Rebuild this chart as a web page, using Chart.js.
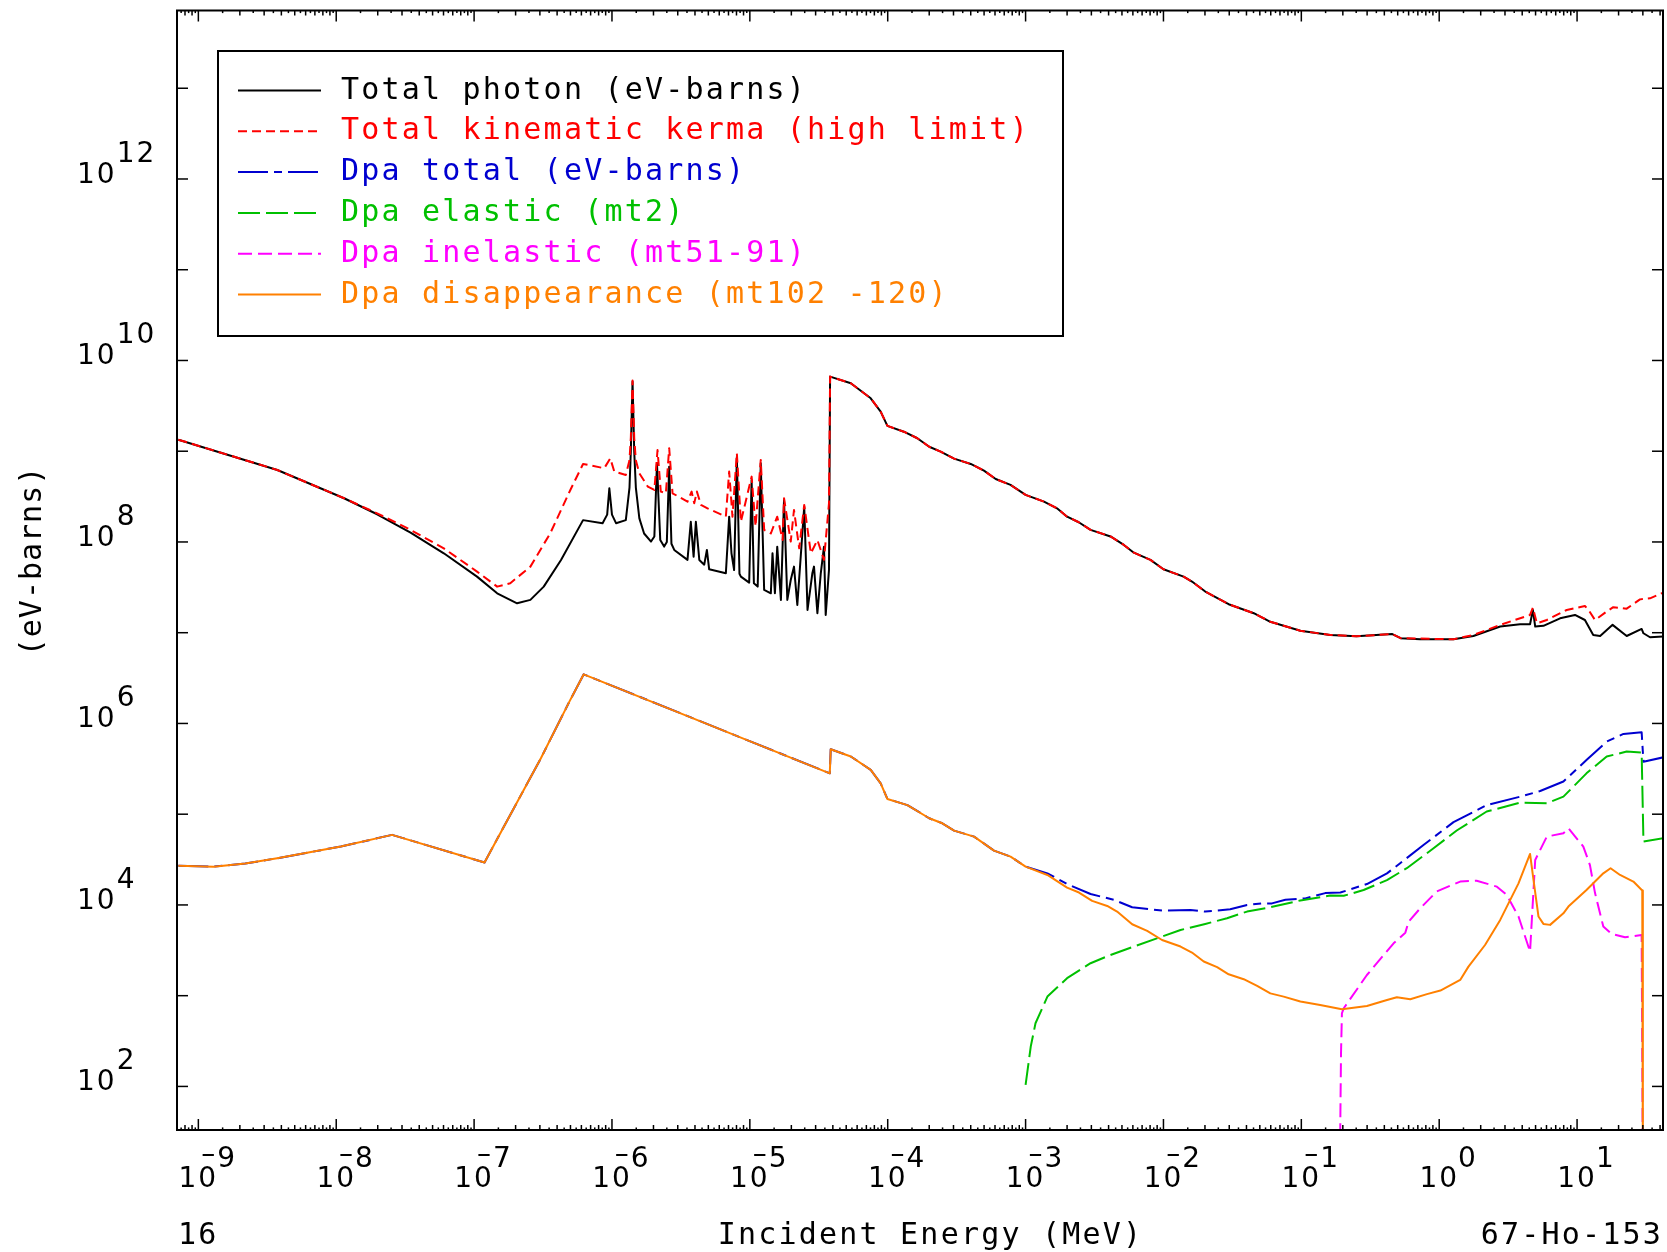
<!DOCTYPE html>
<html><head><meta charset="utf-8">
<script src="https://cdn.jsdelivr.net/npm/chart.js@4.4.0/dist/chart.umd.min.js"></script>
<style>html,body{margin:0;padding:0;background:#fff;}canvas{display:block;}</style>
</head><body>
<canvas id="c" width="1667" height="1252"></canvas>
<script>
// ---------- data (energy in MeV, values in eV-barns) ----------
const photonE = [7.16e-10,3.74e-9,1.14e-8,1.98e-8,3.46e-8,6.03e-8,1.05e-7,1.47e-7,2.05e-7,2.56e-7,3.20e-7,4.27e-7,6.17e-7,8.55e-7,9.23e-7,9.57e-7,1.00e-6,1.07e-6,1.26e-6,1.34e-6,1.37e-6,1.41e-6,1.45e-6,1.49e-6,1.58e-6,1.71e-6,1.92e-6,2.03e-6,2.12e-6,2.24e-6,2.39e-6,2.50e-6,2.60e-6,2.70e-6,2.83e-6,3.53e-6,3.73e-6,3.91e-6,4.06e-6,4.30e-6,4.67e-6,4.88e-6,5.07e-6,6.70e-6,7.08e-6,7.36e-6,7.69e-6,8.05e-6,8.41e-6,8.61e-6,9.89e-6,1.03e-5,1.07e-5,1.14e-5,1.20e-5,1.27e-5,1.42e-5,1.46e-5,1.52e-5,1.58e-5,1.68e-5,1.77e-5,1.87e-5,1.98e-5,2.09e-5,2.21e-5,2.48e-5,2.62e-5,2.84e-5,2.92e-5,3.09e-5,3.27e-5,3.45e-5,3.55e-5,3.75e-5,3.82e-5,5.40e-5,7.53e-5,8.89e-5,9.95e-5,1.31e-4,1.64e-4,2.00e-4,2.42e-4,3.03e-4,4.00e-4,4.99e-4,6.07e-4,7.78e-4,1.00e-3,1.36e-3,1.69e-3,2.00e-3,2.43e-3,2.96e-3,4.13e-3,5.16e-3,6.10e-3,8.05e-3,1.00e-2,1.40e-2,1.61e-2,2.01e-2,2.97e-2,4.52e-2,5.96e-2,9.84e-2,0.162,0.251,0.398,0.457,0.525,0.728,1.27,1.77,2.77,3.86,4.56,4.78,4.97,5.70,7.53,9.66,11.4,13.1,14.7,18.1,22.9,29.4,30.3,33.8,42.3];
const photonV = [1.34e9,6.21e8,3.03e8,2.02e8,1.27e8,7.50e7,4.15e7,2.72e7,2.11e7,2.30e7,3.22e7,6.34e7,1.74e8,1.61e8,2.00e8,3.90e8,2.00e8,1.61e8,1.74e8,3.98e8,1.00e9,5.85e9,1.00e9,3.98e8,1.82e8,1.24e8,1.01e8,1.15e8,7.36e8,1.05e8,8.89e7,1.00e8,6.76e8,9.55e7,8.17e7,6.34e7,1.67e8,6.89e7,1.67e8,6.34e7,5.62e7,8.17e7,5.00e7,4.52e7,1.90e8,7.50e7,4.91e7,8.71e8,4.47e7,4.15e7,3.56e7,4.82e8,3.51e7,3.22e7,7.36e8,2.96e7,2.72e7,7.50e7,2.72e7,8.87e7,2.30e7,2.90e8,2.30e7,3.81e7,5.35e7,2.02e7,2.45e8,1.78e7,4.52e7,5.35e7,1.64e7,4.52e7,8.87e7,1.57e7,4.92e7,6.64e9,5.60e9,3.83e9,2.73e9,1.90e9,1.64e9,1.39e9,1.12e9,9.89e8,8.28e8,7.24e8,6.11e8,4.94e8,4.25e8,3.30e8,2.78e8,2.35e8,1.90e8,1.65e8,1.36e8,1.15e8,9.27e7,7.62e7,6.34e7,5.00e7,4.15e7,3.66e7,2.84e7,2.06e7,1.64e7,1.32e7,1.05e7,9.44e6,9.12e6,9.55e6,9.66e6,8.71e6,8.47e6,8.47e6,9.20e6,1.17e7,1.24e7,1.24e7,1.78e7,1.17e7,1.19e7,1.44e7,1.57e7,1.38e7,9.44e6,9.20e6,1.22e7,9.20e6,1.10e7,9.86e6,8.91e6,9.06e6];

const kermaE = [7.16e-10,3.74e-9,1.14e-8,1.98e-8,3.46e-8,6.03e-8,1.05e-7,1.47e-7,1.83e-7,2.56e-7,3.57e-7,4.99e-7,6.17e-7,8.79e-7,9.72e-7,1.04e-6,1.26e-6,1.34e-6,1.37e-6,1.41e-6,1.45e-6,1.49e-6,1.58e-6,1.82e-6,2.03e-6,2.14e-6,2.26e-6,2.46e-6,2.60e-6,2.75e-6,3.53e-6,3.78e-6,3.95e-6,4.13e-6,4.42e-6,4.93e-6,6.70e-6,7.08e-6,7.48e-6,8.05e-6,8.61e-6,1.03e-5,1.10e-5,1.20e-5,1.27e-5,1.42e-5,1.58e-5,1.73e-5,1.77e-5,1.98e-5,2.09e-5,2.28e-5,2.48e-5,2.77e-5,3.09e-5,3.45e-5,3.75e-5,3.82e-5,5.40e-5,7.53e-5,8.89e-5,9.95e-5,1.31e-4,1.64e-4,2.00e-4,2.42e-4,3.03e-4,4.00e-4,4.99e-4,6.07e-4,7.78e-4,1.00e-3,1.36e-3,1.69e-3,2.00e-3,2.43e-3,2.96e-3,4.13e-3,5.16e-3,6.10e-3,8.05e-3,1.00e-2,1.40e-2,1.61e-2,2.01e-2,2.97e-2,4.52e-2,5.96e-2,9.84e-2,0.162,0.251,0.398,0.457,0.525,0.728,1.27,1.77,2.77,4.56,4.78,5.11,6.03,8.41,11.4,12.1,13.5,16.4,18.3,22.9,28.6,33.8,42.3];
const kermaV = [1.34e9,6.21e8,3.03e8,2.07e8,1.36e8,8.51e7,4.71e7,3.22e7,3.51e7,5.35e7,1.25e8,3.74e8,7.24e8,6.49e8,8.36e8,5.96e8,5.47e8,7.94e8,1.40e9,6.00e9,1.40e9,7.94e8,5.71e8,4.07e8,3.74e8,1.03e9,3.59e8,3.44e8,1.08e9,3.44e8,2.78e8,3.59e8,2.67e8,3.59e8,2.56e8,2.35e8,1.90e8,5.96e8,1.90e8,9.48e8,1.67e8,5.25e8,1.48e8,8.02e8,1.36e8,1.24e8,1.90e8,1.05e8,3.03e8,1.01e8,2.25e8,8.51e7,2.56e8,7.50e7,1.05e8,6.34e7,2.67e8,6.64e9,5.60e9,3.83e9,2.73e9,1.90e9,1.64e9,1.39e9,1.12e9,9.89e8,8.28e8,7.24e8,6.11e8,4.94e8,4.25e8,3.30e8,2.78e8,2.35e8,1.90e8,1.65e8,1.36e8,1.15e8,9.27e7,7.62e7,6.34e7,5.00e7,4.15e7,3.66e7,2.84e7,2.06e7,1.64e7,1.32e7,1.05e7,9.44e6,9.12e6,9.55e6,9.66e6,8.71e6,8.61e6,8.47e6,9.44e6,1.22e7,1.57e7,1.89e7,1.27e7,1.38e7,1.78e7,1.97e7,1.78e7,1.38e7,1.71e7,1.91e7,1.84e7,2.33e7,2.39e7,2.77e7];

const disappE = [7.16e-10,1.29e-9,2.19e-9,3.73e-9,1.08e-8,2.54e-8,1.19e-7,3.05e-7,4.91e-7,6.24e-7,3.80e-5,3.86e-5,5.40e-5,7.53e-5,8.89e-5,9.95e-5,1.39e-4,2.00e-4,2.49e-4,3.03e-4,4.23e-4,5.90e-4,7.78e-4,1.00e-3,1.44e-3,2.00e-3,2.44e-3,3.04e-3,3.91e-3,4.61e-3,5.93e-3,7.62e-3,9.77e-3,1.33e-2,1.61e-2,1.96e-2,2.45e-2,2.97e-2,3.82e-2,4.78e-2,5.96e-2,7.45e-2,9.84e-2,0.137,0.197,0.299,0.418,0.493,0.617,0.815,1.02,1.42,1.63,2.15,2.77,3.76,4.56,4.83,5.25,5.70,6.37,7.96,8.65,11.7,15.5,17.5,20.5,25.6,29.7,30.0];
const disappV = [2.71e4,2.64e4,2.86e4,3.27e4,4.40e4,5.92e4,2.94e4,4.13e5,1.74e6,3.48e6,2.82e5,5.19e5,4.32e5,3.08e5,2.19e5,1.47e5,1.26e5,9.02e4,7.94e4,6.59e4,5.66e4,3.97e4,3.41e4,2.64e4,2.14e4,1.55e4,1.37e4,1.11e4,9.75e3,8.45e3,6.12e3,5.18e3,4.11e3,3.48e3,2.99e3,2.38e3,2.06e3,1.72e3,1.52e3,1.28e3,1.06e3,977,861,791,708,771,897,962,914,1040,1140,1490,2090,3620,6840,1.73e4,3.65e4,1.89e4,7.45e3,6.18e3,6.03e3,8.09e3,9.59e3,1.46e4,2.23e4,2.54e4,2.14e4,1.81e4,1.44e4,10];

const dpaTotalE = [7.16e-10,1.29e-9,2.19e-9,3.73e-9,1.08e-8,2.54e-8,1.19e-7,3.05e-7,4.91e-7,6.24e-7,3.80e-5,3.86e-5,5.40e-5,7.53e-5,8.89e-5,9.95e-5,1.39e-4,2.00e-4,2.49e-4,3.03e-4,4.23e-4,5.90e-4,7.78e-4,1.00e-3,1.44e-3,2.00e-3,2.96e-3,4.37e-3,5.93e-3,9.77e-3,1.57e-2,2.01e-2,3.05e-2,4.04e-2,5.19e-2,6.12e-2,7.66e-2,0.107,0.149,0.192,0.299,0.418,0.521,0.769,1.27,2.21,3.86,5.40,7.96,11.7,16.4,21.7,29.4,30.3,42.3];
const dpaTotalV = [2.71e4,2.64e4,2.86e4,3.27e4,4.40e4,5.92e4,2.94e4,4.13e5,1.74e6,3.48e6,2.82e5,5.19e5,4.32e5,3.08e5,2.19e5,1.47e5,1.26e5,9.02e4,7.94e4,6.59e4,5.66e4,3.97e4,3.41e4,2.64e4,2.23e4,1.70e4,1.32e4,1.14e4,9.42e3,8.67e3,8.81e3,8.45e3,8.95e3,1.00e4,1.04e4,1.04e4,1.14e4,1.18e4,1.35e4,1.37e4,1.70e4,2.23e4,2.88e4,4.58e4,8.17e4,1.26e5,1.56e5,1.80e5,2.29e5,3.96e5,6.31e5,7.66e5,8.00e5,3.79e5,4.24e5];

const elasticE = [1.00e-3,1.09e-3,1.18e-3,1.44e-3,2.00e-3,2.96e-3,4.13e-3,6.10e-3,9.77e-3,1.33e-2,2.01e-2,2.89e-2,4.04e-2,5.96e-2,9.84e-2,0.162,0.203,0.283,0.418,0.582,0.910,1.34,2.21,3.86,6.03,7.96,11.7,16.4,22.9,29.4,30.3,42.3];
const elasticV = [104,275,497,977,1560,2280,2810,3480,4480,5300,6180,7130,8450,9420,1.12e4,1.27e4,1.26e4,1.46e4,1.88e4,2.54e4,4.21e4,6.61e4,1.07e5,1.34e5,1.32e5,1.56e5,2.82e5,4.32e5,4.90e5,4.78e5,4.99e4,5.43e4];

const inelasticE = [0.190,0.194,0.197,0.203,0.299,0.467,0.568,0.600,0.728,0.962,1.42,1.87,2.62,3.09,3.76,4.56,4.97,6.03,7.96,8.65,11.1,12.4,13.5,15.5,17.8,22.3,29.4,30.0];
const inelasticV = [10,232,640,726,1690,3780,4950,6550,9180,1.41e4,1.81e4,1.85e4,1.59e4,1.29e4,7450,3060,3.13e4,5.66e4,6.17e4,7.00e4,4.40e4,2.75e4,1.35e4,5770,4790,4410,4670,10];

// axes
const xMin = 7.16e-10, xMax = 42.0, yMin = 33.1, yMax = 7.19e13;
const xDecadeTicks = [1e-10,1e-9,1e-8,1e-7,1e-6,1e-5,1e-4,1e-3,1e-2,1e-1,1,10];
const xLabelExponents = ['-9','-8','-7','-6','-5','-4','-3','-2','-1','0','1'];
const yDecadeTicks = [1e2,1e3,1e4,1e5,1e6,1e7,1e8,1e9,1e10,1e11,1e12,1e13];
const yLabelExponents = ['2','4','6','8','10','12'];
const minorMults = [1.5,2,2.5,3,3.5,4,4.5,5,5.5,6,6.5,7,7.5,8,8.5,9,9.5];

const seriesNames = ['Total photon (eV-barns)','Total kinematic kerma (high limit)','Dpa total (eV-barns)','Dpa elastic (mt2)','Dpa inelastic (mt51-91)','Dpa disappearance (mt102 -120)'];
const seriesColors = ['#000000','#ff0000','#0000d0','#00c000','#ff00ff','#ff8000'];
const seriesDash = [[],[9,5],[30,6,8,6],[22,6],[14,6],[]];
const xTitle = 'Incident Energy (MeV)';
const yTitle = '(eV-barns)';
const leftNote = '16';
const rightNote = '67-Ho-153';

function pts(E, V){ return E.map((e,i)=>({x:e,y:V[i]})); }
const seriesData = [pts(photonE,photonV),pts(kermaE,kermaV),pts(dpaTotalE,dpaTotalV),pts(elasticE,elasticV),pts(inelasticE,inelasticV),pts(disappE,disappV)];

const TEXT_FONT = '30px "DejaVu Sans Mono", monospace';
const NUM_FONT = '28px "DejaVu Sans", sans-serif';

function setSpacing(ctx, px){ if ('letterSpacing' in ctx) ctx.letterSpacing = px + 'px'; }

const framePlugin = {
  id: 'frame',
  afterDraw(chart){
    const ctx = chart.ctx, a = chart.chartArea, xs = chart.scales.x, ys = chart.scales.y;
    ctx.save();
    ctx.strokeStyle = '#000'; ctx.fillStyle = '#000';
    ctx.lineWidth = 2;
    ctx.strokeRect(a.left, a.top, a.right - a.left, a.bottom - a.top);
    ctx.lineWidth = 1.5;
    const seg = (x1,y1,x2,y2)=>{ctx.beginPath();ctx.moveTo(x1,y1);ctx.lineTo(x2,y2);ctx.stroke();};
    yDecadeTicks.forEach(v=>{
      const y = ys.getPixelForValue(v);
      if (y < a.top || y > a.bottom) return;
      seg(a.left, y, a.left + 11, y);
      seg(a.right - 11, y, a.right, y);
    });
    xDecadeTicks.forEach(d=>{
      const x = xs.getPixelForValue(d);
      if (x >= a.left && x <= a.right){
        seg(x, a.bottom, x, a.bottom - 11);
        seg(x, a.top, x, a.top + 11);
      }
      minorMults.forEach(m=>{
        const xm = xs.getPixelForValue(m*d);
        if (xm < a.left || xm > a.right) return;
        const L = (m % 1 === 0) ? 5 : 2.6;
        seg(xm, a.bottom, xm, a.bottom - L);
        seg(xm, a.top, xm, a.top + L);
      });
    });
    // y labels
    ctx.font = NUM_FONT; setSpacing(ctx, 2);
    ctx.textAlign = 'left'; ctx.textBaseline = 'alphabetic';
    yLabelExponents.forEach(ex=>{
      const y = ys.getPixelForValue(Number('1e' + ex));
      const w = ctx.measureText('10').width;
      ctx.fillText('10', 77, y + 4);
      ctx.fillText(ex, 77 + w, y - 17);
    });
    // x labels
    xLabelExponents.forEach(ex=>{
      const x = xs.getPixelForValue(Number('1e' + ex));
      const w = ctx.measureText('10').width;
      const x0 = x - w/2;
      ctx.textAlign = 'left';
      ctx.fillText('10', x0, 1187);
      const digits = ex.replace('-','');
      ctx.fillText(digits, x0 + w - 1, 1167);
      if (ex.startsWith('-')){
        ctx.textAlign = 'right';
        ctx.fillText('\u2013', x0 + w - 1, 1163);
      }
    });
    // titles
    ctx.font = TEXT_FONT; setSpacing(ctx, 2.2);
    ctx.textAlign = 'left';
    const tw = ctx.measureText(xTitle).width;
    ctx.fillText(xTitle, 930.5 - tw/2, 1244);
    ctx.fillText(leftNote, 178, 1244);
    const rw = ctx.measureText(rightNote).width;
    ctx.fillText(rightNote, 1663 - rw, 1244);
    ctx.save();
    ctx.translate(33, 561); ctx.rotate(-Math.PI/2);
    setSpacing(ctx, 1);
    const yw = ctx.measureText(yTitle).width;
    ctx.textBaseline = 'middle';
    ctx.fillText(yTitle, -yw/2, 0);
    ctx.restore();
    // legend
    ctx.lineWidth = 2; ctx.strokeStyle = '#000';
    ctx.strokeRect(218, 51, 845, 285);
    setSpacing(ctx, 2.2);
    ctx.textBaseline = 'alphabetic'; ctx.textAlign = 'left';
    seriesNames.forEach((name,i)=>{
      const ly = 90.5 + 40.8*i;
      ctx.strokeStyle = seriesColors[i]; ctx.lineWidth = 2;
      ctx.setLineDash(seriesDash[i]);
      seg(238, ly, 321, ly);
      ctx.setLineDash([]);
      ctx.fillStyle = seriesColors[i];
      ctx.fillText(name, 341, 98.5 + 40.8*i);
    });
    ctx.restore();
  }
};

const orders = [6,5,4,3,2,1];
new Chart(document.getElementById('c'), {
  type: 'line',
  data: {
    datasets: seriesData.map((d,i)=>({
      label: seriesNames[i], data: d,
      borderColor: seriesColors[i], backgroundColor: seriesColors[i],
      borderDash: seriesDash[i], borderWidth: 2, fill: false,
      pointRadius: 0, tension: 0, borderJoinStyle: 'round', order: orders[i]
    }))
  },
  options: {
    responsive: false, animation: false,
    layout: { padding: { left: 177, right: 4, top: 10.5, bottom: 122 } },
    scales: {
      x: { type: 'logarithmic', min: xMin, max: xMax, display: false },
      y: { type: 'logarithmic', min: yMin, max: yMax, display: false }
    },
    plugins: { legend: { display: false }, tooltip: { enabled: false } },
    events: []
  },
  plugins: [framePlugin]
});
</script>
</body></html>
